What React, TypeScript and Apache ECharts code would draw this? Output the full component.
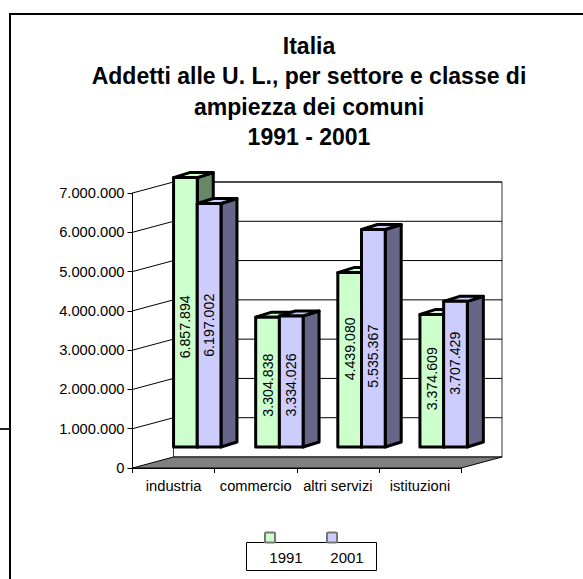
import React, { useEffect, useRef } from "react";
import * as echarts from "echarts";

const categories = ["industria", "commercio", "altri servizi", "istituzioni"];
const values1991 = [6857894, 3304838, 4439080, 3374609];
const values2001 = [6197002, 3334026, 5535367, 3707429];
const yTicks = [0, 1000000, 2000000, 3000000, 4000000, 5000000, 6000000, 7000000];
const seriesNames = ["1991", "2001"];
const titleLines = ["Italia", "Addetti alle U. L., per settore e classe di", "ampiezza dei comuni", "1991 - 2001"];

const FONT = '"Liberation Sans", Arial, sans-serif';
const FRONT = ["#CCFFCC", "#CCCCFF"];
const SIDE = ["#668866", "#666688"];
const labelShifts = [
  [14.5, 3, -11, -2],
  [0, 3.5, 18, -11],
];
const WALL_DX = 41;
const WALL_DY = 11;
const BAR_LIFT = 21;
const FACE_W = 23.7;
const DEPTH_X = 16;
const DEPTH_Y = 5;
const EDGE = 3;

const fmt = (v: number) => String(v).replace(/\B(?=(\d{3})+(?!\d))/g, ".");

function renderWall(params: any, api: any) {
  const v = api.value(0);
  const cs = params.coordSys;
  const [, y] = api.coord([0, v]);
  const left = cs.x;
  const right = cs.x + cs.width;
  const children: any[] = [];
  if (params.dataIndex === 0) {
    const top = cs.y - WALL_DY;
    const floorBack = y - WALL_DY;
    children.push(
      { type: "rect", shape: { x: left + WALL_DX, y: top, width: cs.width, height: floorBack - top }, style: { fill: "#fff", stroke: "#333", lineWidth: 1 } },
      { type: "polygon", shape: { points: [[left, y], [left + WALL_DX, floorBack], [right + WALL_DX, floorBack], [right, y]] }, style: { fill: "#808080", stroke: "#000", lineWidth: 1 } },
    );
  } else {
    children.push({
      type: "polyline",
      shape: { points: [[left, y], [left + WALL_DX, y - WALL_DY], [right + WALL_DX, y - WALL_DY]] },
      style: { fill: "none", stroke: "#000", lineWidth: 1 },
    });
  }
  return { type: "group", children };
}

const renderBar = (s: number) => (params: any, api: any) => {
  const cat = api.value(0);
  const val = api.value(1);
  const [cx, yv] = api.coord([cat, val]);
  const [, y0] = api.coord([cat, 0]);
  const l = cx + s * FACE_W;
  const r = l + FACE_W;
  const t = yv - BAR_LIFT;
  const b = y0 - BAR_LIFT;
  const edge = { stroke: "#000", lineWidth: EDGE, lineJoin: "round" };
  return {
    type: "group",
    children: [
      { type: "polygon", shape: { points: [[r, t], [r + DEPTH_X, t - DEPTH_Y], [r + DEPTH_X, b - DEPTH_Y], [r, b]] }, style: { fill: SIDE[s], ...edge } },
      { type: "polygon", shape: { points: [[l, t], [l + DEPTH_X, t - DEPTH_Y], [r + DEPTH_X, t - DEPTH_Y], [r, t]] }, style: { fill: FRONT[s], ...edge } },
      { type: "rect", shape: { x: l, y: t, width: FACE_W, height: b - t }, style: { fill: FRONT[s], ...edge } },
      {
        type: "text",
        x: (l + r) / 2,
        y: (t + b) / 2 + labelShifts[s][cat],
        rotation: Math.PI / 2,
        style: { text: fmt(val), fill: "#000", font: `14.2px ${FONT}`, align: "center", verticalAlign: "middle" },
      },
    ],
  };
};

export default function App() {
  const ref = useRef<HTMLDivElement>(null);
  useEffect(() => {
    document.body.style.margin = "0";
    const chart = echarts.init(ref.current!, undefined, { renderer: "svg" });
    const legendText = { fill: "#000", font: `15px ${FONT}`, align: "center", verticalAlign: "middle" };
    chart.setOption({
      animation: false,
      backgroundColor: "#fff",
      title: {
        text: titleLines.join("\n"),
        left: 304,
        top: 25.5,
        textAlign: "center",
        textStyle: { fontFamily: FONT, fontWeight: "bold", fontSize: 23, lineHeight: 30.5, color: "#000" },
      },
      grid: { left: 132.5, right: 122, top: 193, bottom: 111 },
      xAxis: {
        type: "category",
        data: categories,
        axisLine: { show: true, lineStyle: { color: "#000", width: 1 } },
        axisTick: { show: true, length: 5, lineStyle: { color: "#000" } },
        axisLabel: { color: "#000", fontFamily: FONT, fontSize: 14.7, margin: 10, interval: 0, hideOverlap: false },
        splitLine: { show: false },
      },
      yAxis: {
        type: "value",
        min: 0,
        max: 7000000,
        interval: 1000000,
        axisLine: { show: true, lineStyle: { color: "#000", width: 1 } },
        axisTick: { show: true, length: 5, lineStyle: { color: "#000" } },
        axisLabel: { color: "#000", fontFamily: FONT, fontSize: 14.7, margin: 8, formatter: (v: number) => fmt(v) },
        splitLine: { show: false },
      },
      series: [
        { type: "custom", name: "pareti", z: 1, data: yTicks.map((v) => [v]), renderItem: renderWall, encode: { y: 0 }, silent: true },
        { type: "custom", name: seriesNames[0], z: 2, data: values1991.map((v, i) => [i, v]), renderItem: renderBar(0), encode: { x: 0, y: 1 } },
        { type: "custom", name: seriesNames[1], z: 3, data: values2001.map((v, i) => [i, v]), renderItem: renderBar(1), encode: { x: 0, y: 1 } },
      ],
      graphic: [
        { type: "polyline", shape: { points: [[10, 579], [10, 14], [583, 14]] }, style: { fill: "none", stroke: "#000", lineWidth: 2 } },
        { type: "line", shape: { x1: 0, y1: 429, x2: 10, y2: 429 }, style: { stroke: "#222", lineWidth: 2 } },
        { type: "rect", shape: { x: 246.5, y: 542.5, width: 130, height: 28 }, style: { fill: "#fff", stroke: "#000", lineWidth: 1 } },
        { type: "rect", shape: { x: 265, y: 532.5, width: 10, height: 10, r: 1 }, style: { fill: FRONT[0], stroke: "#777", lineWidth: 2 } },
        { type: "rect", shape: { x: 327, y: 532.5, width: 10, height: 10, r: 1 }, style: { fill: FRONT[1], stroke: "#777", lineWidth: 2 } },
        { type: "text", x: 286, y: 557, style: { text: seriesNames[0], ...legendText } },
        { type: "text", x: 347, y: 557, style: { text: seriesNames[1], ...legendText } },
      ],
    });
    return () => chart.dispose();
  }, []);
  return <div ref={ref} style={{ position: "absolute", left: 0, top: 0, width: 583, height: 579 }} />;
}
